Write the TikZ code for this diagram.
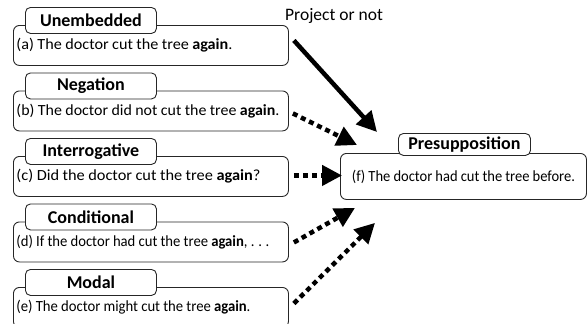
\documentclass[tikz,border=0pt]{standalone}
\usepackage{fontspec}
\usepackage{graphicx}
\setmainfont{Carlito}
\usetikzlibrary{arrows.meta,calc}
\newcommand{\fitline}[2]{\resizebox{#1pt}{\height}{\fontsize{15.5}{18}\selectfont #2}}
\tikzset{
  mainbox/.style={draw=black!85, line width=0.9pt, rounded corners=6pt, anchor=north west,
    minimum width=275pt, minimum height=40pt, inner xsep=3pt, inner ysep=0pt,
    text width=269pt, align=left},
  tagbox/.style={draw=black!85, fill=white, line width=0.9pt, rounded corners=5pt, anchor=north west,
    minimum width=131pt, minimum height=26pt, inner sep=0pt, font=\fontsize{18}{21}\selectfont\bfseries},
  solidarrow/.style={line width=4.5pt, -{Triangle[length=20pt,width=20pt]}},
  dotarrow/.style={line width=4.5pt, dash pattern=on 5pt off 4pt, -{Triangle[length=20pt,width=20pt]}},
}
\begin{document}
\begin{tikzpicture}[x=1pt,y=-1pt]
\useasboundingbox (0,0) rectangle (587,324);
% left boxes
\node[mainbox] (a) at (13,25) {\fitline{216}{(a) The doctor cut the tree \textbf{again}.}};
\node[tagbox] (la) at (25,7) {Unembedded};
\node[mainbox] (b) at (13,90.5) {\fitline{263}{(b) The doctor did not cut the tree \textbf{again}.}};
\node[tagbox] (lb) at (25,72.5) {Negation};
\node[mainbox] (c) at (13,156) {\fitline{244}{(c) Did the doctor cut the tree \textbf{again}?}};
\node[tagbox] (lc) at (25,138) {Interrogative};
\node[mainbox] (d) at (13,221.5) {\fitline{253}{(d) If the doctor had cut the tree \textbf{again}, .\hspace{4pt}.\hspace{4pt}.}};
\node[tagbox] (ld) at (25,203.5) {Conditional};
\node[mainbox] (e) at (13,287) {\fitline{234}{(e) The doctor might cut the tree \textbf{again}.}};
\node[tagbox] (le) at (25,269) {Modal};
% presupposition
\node[mainbox, minimum width=246pt, minimum height=46pt, text width=240pt, align=center]
  (f) at (340,153) {\fitline{223}{(f) The doctor had cut the tree before.}};
\node[tagbox, minimum width=132pt, minimum height=22pt] (lf) at (398,133) {Presupposition};
% caption
\node[anchor=west, inner sep=0pt, font=\fontsize{17.5}{20}\selectfont] (p) at (285,16) {Project or not};
% arrow ends
\coordinate (ta) at ($(f.north west)+(37,-21)$);
\coordinate (tb) at ($(f.north west)+(17,-8)$);
\coordinate (tc) at ($(f.west)+(2,-1)$);
\coordinate (td) at ($(f.south west)+(15,8)$);
\coordinate (te) at ($(f.south west)+(35,23)$);
\draw[solidarrow] ($(a.east)+(5,-5)$) -- (ta);
\draw[dotarrow] ($(b.east)+(4,2.5)$) -- (tb);
\draw[dotarrow] ($(c.east)+(5,-1)$) -- (tc);
\draw[dotarrow] ($(d.east)+(5,0.5)$) -- (td);
\draw[dotarrow] ($(e.east)+(5,-4)$) -- (te);
\end{tikzpicture}
\end{document}
